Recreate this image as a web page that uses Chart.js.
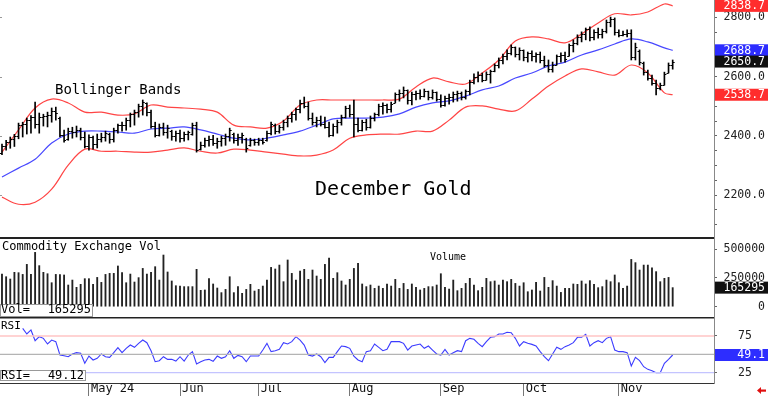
<!DOCTYPE html>
<html>
<head>
<meta charset="utf-8">
<script src="https://cdn.jsdelivr.net/npm/chart.js@4.4.1/dist/chart.umd.min.js"></script>
<style>
  body { margin: 0; background: #fff; }
  #wrap { position: relative; width: 768px; height: 396px; overflow: hidden; font-family: "DejaVu Sans Mono", monospace; color: #000; }
  canvas { position: absolute; left: 0; }
  .t { position: absolute; line-height: 1; white-space: pre; }
  .box { position: absolute; left: 0; background: #fff; border: 1px solid #999; box-sizing: border-box; }
  .box span { position: absolute; line-height: 1; font-size: 12px; white-space: pre; }
</style>
</head>
<body>
<div id="wrap">
  <canvas id="price" width="768" height="239" style="top:0"></canvas>
  <canvas id="vol" width="768" height="81" style="top:238px"></canvas>
  <canvas id="rsi" width="768" height="78" style="top:318px"></canvas>
  <div class="t" style="left:55px;top:82px;font-size:14px">Bollinger Bands</div>
  <div class="t" style="left:315px;top:178px;font-size:20px">December Gold</div>
  <div class="t" style="left:2px;top:240px;font-size:12px">Commodity Exchange Vol</div>
  <div class="t" style="left:430px;top:252px;font-size:10px">Volume</div>
  <div class="t" style="left:1px;top:320px;font-size:11px">RSI</div>
  <div class="box" style="top:304px;width:93px;height:13px"><span style="left:0;top:-2px">Vol=</span><span id="volVal" style="right:1px;top:-2px"></span></div>
  <div class="box" style="top:370px;width:86px;height:11px"><span style="left:0;top:-2px">RSI=</span><span id="rsiVal" style="right:1px;top:-2px"></span></div>
</div>
<script>
// daily bars, Apr 2 - Nov 20
const highs = [
  2372, 2385, 2396, 2405, 2443, 2446, 2460, 2468, 2514, 2477,
  2473, 2480, 2494, 2497, 2463, 2419, 2426, 2429, 2433, 2426,
  2413, 2403, 2399, 2406, 2409, 2416, 2409, 2426, 2440, 2446,
  2460, 2477, 2487, 2507, 2521, 2511, 2487, 2446, 2440, 2443,
  2436, 2419, 2416, 2419, 2413, 2416, 2443, 2446, 2379, 2392,
  2399, 2402, 2392, 2399, 2406, 2426, 2409, 2406, 2409, 2392,
  2392, 2389, 2392, 2392, 2416, 2446, 2440, 2436, 2453, 2467,
  2480, 2494, 2521, 2531, 2514, 2477, 2463, 2467, 2463, 2446,
  2440, 2453, 2470, 2500, 2504, 2521, 2460, 2453, 2456, 2467,
  2477, 2507, 2511, 2507, 2514, 2545, 2555, 2565, 2555, 2548,
  2551, 2555, 2558, 2551, 2555, 2548, 2538, 2534, 2541, 2548,
  2551, 2548, 2555, 2588, 2609, 2616, 2612, 2616, 2622, 2643,
  2663, 2676, 2690, 2707, 2700, 2697, 2690, 2683, 2687, 2680,
  2683, 2669, 2656, 2649, 2673, 2680, 2683, 2710, 2724, 2741,
  2751, 2764, 2768, 2758, 2764, 2760, 2791, 2801, 2798, 2758,
  2754, 2758, 2758, 2713, 2690, 2649, 2622, 2605, 2588, 2578,
  2615, 2646, 2656
];
const lows = [
  2336, 2352, 2358, 2364, 2390, 2396, 2406, 2409, 2426, 2409,
  2433, 2430, 2446, 2453, 2396, 2379, 2385, 2392, 2396, 2386,
  2359, 2352, 2355, 2359, 2379, 2382, 2375, 2379, 2409, 2416,
  2419, 2430, 2436, 2463, 2470, 2467, 2426, 2396, 2399, 2402,
  2392, 2385, 2382, 2379, 2382, 2386, 2402, 2345, 2352, 2362,
  2365, 2368, 2358, 2365, 2368, 2382, 2375, 2368, 2375, 2345,
  2365, 2368, 2368, 2372, 2382, 2403, 2406, 2409, 2419, 2430,
  2446, 2453, 2477, 2494, 2453, 2436, 2430, 2433, 2426, 2396,
  2399, 2409, 2436, 2460, 2463, 2396, 2413, 2416, 2419, 2426,
  2450, 2467, 2473, 2477, 2480, 2511, 2517, 2528, 2507, 2504,
  2521, 2524, 2531, 2521, 2524, 2517, 2497, 2500, 2507, 2514,
  2517, 2521, 2524, 2538, 2575, 2582, 2582, 2588, 2578, 2616,
  2629, 2643, 2656, 2673, 2666, 2656, 2653, 2649, 2653, 2649,
  2646, 2632, 2615, 2615, 2639, 2649, 2649, 2669, 2683, 2707,
  2717, 2724, 2720, 2724, 2730, 2730, 2747, 2768, 2740, 2734,
  2737, 2734, 2656, 2656, 2639, 2605, 2588, 2571, 2538, 2555,
  2571, 2612, 2625
];
const opens = [
  2342, 2366, 2380, 2390, 2398, 2436, 2440, 2452, 2462, 2440,
  2465, 2468, 2470, 2485, 2460, 2402, 2388, 2416, 2412, 2420,
  2395, 2366, 2396, 2372, 2388, 2395, 2405, 2390, 2420, 2435,
  2438, 2455, 2472, 2480, 2500, 2510, 2480, 2432, 2402, 2430,
  2412, 2415, 2400, 2410, 2392, 2405, 2405, 2436, 2355, 2370,
  2385, 2390, 2375, 2382, 2392, 2400, 2405, 2385, 2395, 2390,
  2368, 2385, 2378, 2385, 2385, 2410, 2435, 2415, 2430, 2445,
  2460, 2474, 2490, 2512, 2500, 2460, 2445, 2455, 2440, 2430,
  2402, 2432, 2448, 2465, 2495, 2475, 2440, 2420, 2445, 2430,
  2460, 2472, 2500, 2505, 2490, 2512, 2540, 2545, 2555, 2520,
  2540, 2545, 2535, 2550, 2530, 2548, 2525, 2505, 2528, 2530,
  2540, 2545, 2530, 2550, 2582, 2600, 2605, 2590, 2610, 2618,
  2638, 2655, 2670, 2680, 2700, 2675, 2690, 2665, 2678, 2670,
  2675, 2655, 2640, 2625, 2640, 2668, 2672, 2670, 2705, 2715,
  2735, 2745, 2760, 2735, 2750, 2745, 2755, 2785, 2795, 2750,
  2740, 2745, 2748, 2665, 2685, 2645, 2615, 2595, 2580, 2560,
  2572, 2612, 2640
];
const closes = [
  2366, 2380, 2390, 2398, 2436, 2440, 2452, 2462, 2440, 2465,
  2468, 2470, 2485, 2478, 2402, 2385, 2416, 2412, 2420, 2395,
  2366, 2396, 2372, 2388, 2395, 2410, 2390, 2420, 2435, 2438,
  2455, 2472, 2480, 2500, 2515, 2480, 2432, 2402, 2430, 2412,
  2425, 2400, 2410, 2392, 2405, 2412, 2436, 2352, 2370, 2385,
  2390, 2375, 2382, 2392, 2400, 2420, 2385, 2395, 2402, 2360,
  2385, 2378, 2385, 2380, 2410, 2440, 2415, 2430, 2445, 2460,
  2474, 2490, 2512, 2500, 2460, 2445, 2455, 2440, 2430, 2402,
  2432, 2448, 2465, 2495, 2475, 2440, 2420, 2445, 2430, 2460,
  2472, 2500, 2505, 2490, 2508, 2540, 2545, 2555, 2520, 2540,
  2545, 2535, 2550, 2530, 2548, 2525, 2505, 2528, 2530, 2540,
  2545, 2530, 2550, 2582, 2600, 2605, 2590, 2610, 2618, 2638,
  2655, 2670, 2680, 2700, 2675, 2690, 2665, 2678, 2670, 2675,
  2655, 2640, 2625, 2640, 2668, 2672, 2660, 2705, 2715, 2735,
  2745, 2760, 2735, 2750, 2745, 2755, 2785, 2795, 2750, 2740,
  2745, 2748, 2665, 2700, 2650, 2615, 2595, 2580, 2560, 2570,
  2610, 2640, 2650.7
];

// bollinger bands at these bar numbers
const bandIdx = [0, 4, 8, 12, 16, 20, 24, 28, 32, 36, 40, 44, 48, 52, 56, 60, 64, 68, 72, 76, 80,
  84, 88, 92, 96, 100, 104, 108, 112, 116, 120, 124, 128, 132, 136, 140, 144, 148, 152, 156, 160, 162];
const upperBand = [2345, 2420, 2494, 2524, 2511, 2480, 2480, 2470, 2474, 2504, 2497, 2494, 2490, 2480,
  2436, 2430, 2426, 2450, 2504, 2521, 2521, 2521, 2521, 2521, 2524, 2565, 2595, 2582, 2575, 2612,
  2656, 2720, 2734, 2727, 2714, 2744, 2781, 2812, 2808, 2818, 2845, 2838.7];
const midBand = [2261, 2291, 2321, 2376, 2406, 2416, 2416, 2413, 2409, 2423, 2426, 2430, 2420, 2406,
  2392, 2386, 2392, 2403, 2416, 2436, 2457, 2460, 2460, 2463, 2474, 2497, 2511, 2518, 2534, 2555,
  2568, 2595, 2612, 2636, 2649, 2673, 2690, 2710, 2727, 2717, 2697, 2688.7];
const lowerBand = [2193, 2169, 2176, 2220, 2301, 2355, 2348, 2348, 2345, 2345, 2352, 2359, 2348, 2342,
  2355, 2352, 2345, 2338, 2332, 2335, 2352, 2392, 2403, 2406, 2406, 2416, 2416, 2453, 2497, 2501,
  2490, 2484, 2524, 2568, 2602, 2626, 2616, 2605, 2639, 2612, 2545, 2538.7];

const volumes = [
  283000, 260000, 240000, 298000, 295000, 280000, 367000, 280000, 471000, 356000,
  298000, 286000, 208000, 280000, 278000, 275000, 188000, 231000, 168000, 194000,
  243000, 243000, 194000, 254000, 211000, 280000, 289000, 289000, 353000, 295000,
  208000, 283000, 214000, 252000, 332000, 283000, 298000, 347000, 231000, 448000,
  301000, 223000, 182000, 179000, 174000, 174000, 174000, 324000, 142000, 145000,
  243000, 197000, 162000, 122000, 150000, 260000, 122000, 174000, 116000, 150000,
  194000, 136000, 150000, 179000, 231000, 341000, 327000, 361000, 217000, 405000,
  289000, 231000, 309000, 324000, 237000, 318000, 266000, 237000, 367000, 422000,
  246000, 295000, 223000, 188000, 237000, 332000, 376000, 197000, 174000, 188000,
  159000, 179000, 159000, 197000, 179000, 237000, 159000, 202000, 150000, 197000,
  168000, 145000, 159000, 174000, 174000, 188000, 286000, 168000, 153000, 231000,
  139000, 159000, 202000, 246000, 188000, 139000, 168000, 246000, 217000, 223000,
  188000, 231000, 217000, 237000, 202000, 179000, 208000, 130000, 145000, 211000,
  136000, 254000, 168000, 226000, 179000, 124000, 159000, 159000, 197000, 194000,
  223000, 197000, 226000, 194000, 165000, 174000, 231000, 217000, 275000, 208000,
  159000, 179000, 410000, 382000, 318000, 361000, 361000, 338000, 304000, 217000,
  246000, 254000, 165295
];

const rsiValues = [
  null, null, null, null, null, 85.4, 77.7, 83.2, 68.6, 74.1,
  71.8, 64.1, 69.5, 67.3, 49.1, 48.2, 46.8, 50.5, 52.3, 51.4,
  37.8, 47.7, 42.3, 44.6, 50.5, 46.8, 45.9, 52.3, 59.1, 52.3,
  58.2, 62.7, 59.6, 65.0, 69.5, 65.9, 55.0, 40.0, 41.4, 46.8,
  43.2, 43.2, 40.9, 46.8, 40.9, 49.1, 53.7, 36.9, 40.0, 42.3,
  43.2, 40.5, 47.7, 44.6, 46.8, 55.0, 44.6, 48.6, 46.8, 40.0,
  47.7, 47.7, 47.7, 55.9, 65.0, 53.7, 55.0, 56.8, 65.9, 64.1,
  67.3, 74.1, 69.5, 62.7, 49.1, 47.7, 50.5, 46.8, 38.7, 45.9,
  45.9, 53.7, 61.4, 60.5, 58.2, 47.7, 42.3, 40.0, 53.7, 55.0,
  64.1, 59.6, 55.0, 56.8, 67.3, 67.3, 67.3, 65.0, 55.9, 61.4,
  62.7, 64.1, 58.2, 61.4, 55.9, 50.5, 49.1, 56.8, 49.1, 52.3,
  55.0, 53.7, 68.6, 71.8, 70.5, 65.0, 60.5, 67.3, 73.2, 74.1,
  77.7, 77.7, 80.0, 79.5, 71.8, 61.4, 67.3, 65.0, 63.6, 61.4,
  53.7, 46.8, 41.4, 50.5, 59.6, 56.8, 60.5, 62.7, 65.9, 73.2,
  73.2, 77.3, 61.4, 65.9, 68.6, 65.9, 71.8, 74.1, 55.9, 53.7,
  53.7, 52.3, 34.1, 45.9, 41.4, 33.2, 29.6, 27.8, 25.0, 25.0,
  37.8, 43.2, 49.12
];
const rsiLevels = [75, 50, 25];

const monthIdx = [21, 43, 62, 84, 106, 126, 149];
const monthLabels = ['May 24', 'Jun', 'Jul', 'Aug', 'Sep', 'Oct', 'Nov'];
const priceLabels = [2200, 2400, 2600, 2800];
const volLabels = [0, 250000, 500000];
const rsiLabels = [25, 50, 75];

const N = highs.length;
const xMin = -0.48, xMax = 171.98;
const mono = 'DejaVu Sans Mono';
Chart.defaults.font.family = mono;
Chart.defaults.color = '#111';

document.getElementById('volVal').textContent = volumes[N - 1];
document.getElementById('rsiVal').textContent = rsiValues[N - 1].toFixed(2);

function xAxis(h, extra) {
  return Object.assign({
    type: 'linear', min: xMin, max: xMax, offset: false,
    ticks: { display: false },
    grid: { display: false },
    border: { display: true, color: '#222', width: 2 },
    afterFit: s => { s.height = h; s.paddingLeft = 0; s.paddingRight = 0; }
  }, extra);
}

// right axis is 51px wide + 3px layout padding, so it ends at x=765
function yAxis(min, max, tickVals, fmt, pad, align) {
  return {
    position: 'right', min, max, beginAtZero: false,
    afterFit: s => { s.width = 51; s.paddingTop = 0; s.paddingBottom = 0; },
    afterBuildTicks: s => { s.ticks = tickVals.map(v => ({ value: v })); },
    border: { display: true, color: '#888', width: 1 },
    grid: { drawOnChartArea: false, drawTicks: true, tickLength: 3, color: '#666' },
    ticks: { autoSkip: false, crossAlign: align, padding: pad, color: '#222', font: { size: 11.5 }, callback: fmt }
  };
}

function tagPlugin(tags) {
  return {
    id: 'tags',
    afterDraw(chart) {
      const { ctx, chartArea, scales } = chart;
      ctx.save();
      ctx.font = '11.5px "DejaVu Sans Mono"';
      ctx.textAlign = 'right';
      ctx.textBaseline = 'middle';
      tags.forEach(t => {
        const cy = scales.y.getPixelForValue(t.value);
        ctx.fillStyle = t.bg;
        ctx.fillRect(chartArea.right + 1, cy - 6, chart.width - chartArea.right - 1, 12);
        ctx.fillStyle = '#fff';
        ctx.fillText(t.text, chart.width - 3, cy + 0.5);
      });
      ctx.restore();
    }
  };
}

// open/close ticks on the bars, plus the small marks on the left edge
const ohlcTicks = {
  id: 'ohlcTicks',
  afterDatasetsDraw(chart) {
    const { ctx, scales: { x, y } } = chart;
    ctx.save();
    ctx.strokeStyle = '#000';
    ctx.lineWidth = 1;
    ctx.beginPath();
    for (let i = 0; i < N; i++) {
      const px = x.getPixelForValue(i);
      const yo = Math.round(y.getPixelForValue(opens[i])) + 0.5;
      const yc = Math.round(y.getPixelForValue(closes[i])) + 0.5;
      ctx.moveTo(px - 2, yo); ctx.lineTo(px, yo);
      ctx.moveTo(px, yc); ctx.lineTo(px + 2, yc);
    }
    ctx.stroke();
    ctx.strokeStyle = '#999';
    ctx.beginPath();
    priceLabels.forEach(v => {
      const py = Math.round(y.getPixelForValue(v)) + 0.5;
      ctx.moveTo(0, py); ctx.lineTo(2, py);
    });
    ctx.stroke();
    ctx.restore();
  }
};

const baseOpts = {
  responsive: false, animation: false, devicePixelRatio: 1, events: [],
  layout: { padding: { left: 0, top: 0, bottom: 0, right: 3 } },
  plugins: { legend: { display: false }, tooltip: { enabled: false } }
};

function band(vals) {
  return vals.map((v, k) => ({ x: bandIdx[k], y: v }));
}

const priceMinor = [];
for (let v = 2100; v <= 2850; v += 50) priceMinor.push(v);

new Chart(document.getElementById('price'), {
  type: 'bar',
  data: {
    datasets: [
      { type: 'bar', data: highs.map((h, i) => ({ x: i, y: [lows[i], h] })), backgroundColor: '#000', barThickness: 1, order: 0 },
      { type: 'line', data: band(upperBand), borderColor: '#ff4545', borderWidth: 1.2, pointRadius: 0, tension: 0.35, order: 1 },
      { type: 'line', data: band(midBand), borderColor: '#4848ff', borderWidth: 1.2, pointRadius: 0, tension: 0.35, order: 1 },
      { type: 'line', data: band(lowerBand), borderColor: '#ff4545', borderWidth: 1.2, pointRadius: 0, tension: 0.35, order: 1 }
    ]
  },
  options: Object.assign({}, baseOpts, {
    scales: {
      x: xAxis(1),
      y: yAxis(2055.1, 2858.5, priceMinor, v => priceLabels.includes(v) ? v.toFixed(1) : '', 6, 'far')
    }
  }),
  plugins: [ohlcTicks, tagPlugin([
    { value: upperBand[upperBand.length - 1], text: upperBand[upperBand.length - 1].toFixed(1), bg: '#ff2d2d' },
    { value: midBand[midBand.length - 1], text: midBand[midBand.length - 1].toFixed(1), bg: '#2d2dff' },
    { value: closes[N - 1], text: closes[N - 1].toFixed(1), bg: '#111' },
    { value: lowerBand[lowerBand.length - 1], text: lowerBand[lowerBand.length - 1].toFixed(1), bg: '#ff2d2d' }
  ])]
});

new Chart(document.getElementById('vol'), {
  type: 'bar',
  data: {
    datasets: [
      { data: volumes.map((v, i) => ({ x: i, y: v })), backgroundColor: '#222', barThickness: 1.2 }
    ]
  },
  options: Object.assign({}, baseOpts, {
    scales: {
      x: xAxis(1, { border: { display: true, color: '#222', width: 1.5 } }),
      y: yAxis(-97900, 595600, volLabels, v => String(v), 6, 'far')
    }
  }),
  plugins: [tagPlugin([{ value: volumes[N - 1], text: String(volumes[N - 1]), bg: '#111' }])]
});

const levelColors = ['#ffc4c4', '#b4b4b4', '#c4c4ff'];
const arrow = {
  id: 'arrow',
  afterDraw(chart) {
    const ctx = chart.ctx;
    ctx.save();
    ctx.fillStyle = '#e01010';
    ctx.beginPath();
    ctx.moveTo(757, 72.5); ctx.lineTo(761, 69); ctx.lineTo(761, 76); ctx.closePath();
    ctx.fill();
    ctx.fillRect(760, 71.5, 6, 2.2);
    ctx.restore();
  }
};

new Chart(document.getElementById('rsi'), {
  type: 'line',
  data: {
    datasets: rsiLevels.map((lv, k) => ({
      data: [{ x: xMin, y: lv }, { x: xMax, y: lv }], borderColor: levelColors[k], borderWidth: 1.3, pointRadius: 0
    })).concat([
      { data: rsiValues.map((v, i) => ({ x: i, y: v })), borderColor: '#3c3cff', borderWidth: 1.1, pointRadius: 0, tension: 0 }
    ])
  },
  options: Object.assign({}, baseOpts, {
    scales: {
      x: xAxis(13, {
        border: { display: true, color: '#333', width: 1 },
        grid: { display: true, drawOnChartArea: false, drawTicks: true, tickLength: 13, color: '#777' },
        afterBuildTicks: s => { s.ticks = monthIdx.map(v => ({ value: v })); },
        ticks: {
          display: true, autoSkip: false, maxRotation: 0, minRotation: 0, align: 'start',
          labelOffset: 2, padding: -14, color: '#111', font: { size: 12 },
          callback: (v, i) => monthLabels[i]
        }
      }),
      y: yAxis(11.0, 99.5, rsiLabels, v => v === 50 ? '' : String(v), 21, 'near')
    }
  }),
  plugins: [tagPlugin([{ value: rsiValues[N - 1], text: rsiValues[N - 1].toFixed(1), bg: '#2d2dff' }]), arrow]
});
</script>
</body>
</html>
